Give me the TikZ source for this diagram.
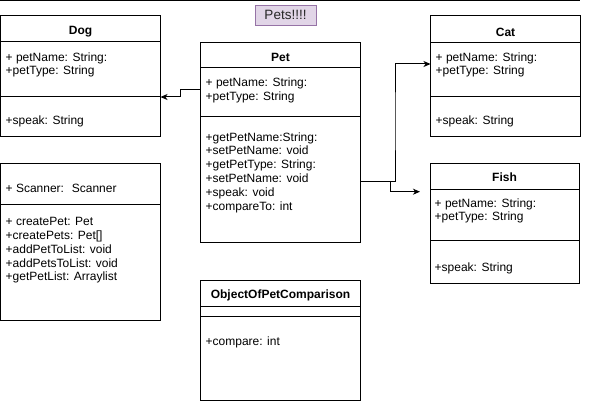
\documentclass[tikz,border=0pt]{standalone}
\usepackage{fontspec}
\setmainfont{Liberation Sans}
\usetikzlibrary{arrows.meta}
\definecolor{pvfill}{HTML}{E1D5E7}
\definecolor{pvdraw}{HTML}{9673A6}
\begin{document}
\begin{tikzpicture}[x=1pt,y=-1pt,
  every node/.style={font=\fontsize{12}{13.8}\selectfont},
  box/.style={draw=black,line width=1pt,inner sep=0pt,outer sep=0pt,anchor=north west},
  title/.style={font=\fontsize{12}{14}\selectfont\bfseries,inner sep=0pt},
  body/.style={align=left,inner sep=0pt,anchor=north west},
  sep/.style={line width=1pt},
  conn/.style={line width=1pt,-{Stealth[length=7pt,width=6pt,inset=2pt]}}]
\useasboundingbox (0,0) rectangle (591,401);
\draw[line width=1pt] (0,1) -- (580,1);
\node[draw=pvdraw,fill=pvfill,line width=1pt,minimum width=61pt,minimum height=20pt,inner sep=0pt,font=\fontsize{13.5}{14}\selectfont,text=black!85] (label) at (285.5,15.2) {Pets!!!!};
% Dog
\node[box,minimum width=160pt,minimum height=120pt] (dog) at (0.5,16) {};
\draw[sep] (0.5,42) -- (160.5,42);
\draw[sep] (0.5,97) -- (160.5,97);
\node[title] (dogt) at (80.5,32) {Dog};
\node[body] (doga) at (5.5,52.3) {+ petName: String:\\+petType: String};
\node[body] (dogm) at (5.5,115.5) {+speak: String};
% Pet
\node[box,minimum width=160pt,minimum height=199.5pt] (pet) at (200.5,42.5) {};
\draw[sep] (200.5,68) -- (360.5,68);
\draw[sep] (200.5,117) -- (360.5,117);
\node[title] (pett) at (280.5,57) {Pet};
\node[body] (peta) at (205.5,77.5) {+ petName: String:\\+petType: String};
\node[body] (petm) at (205.5,132.2) {+getPetName:String:\\+setPetName: void\\+getPetType: String:\\+setPetName: void\\+speak: void\\+compareTo: int};
% Cat
\node[box,minimum width=150pt,minimum height=120pt] (cat) at (430.5,16) {};
\draw[sep] (430.5,42.3) -- (580.5,42.3);
\draw[sep] (430.5,96.7) -- (580.5,96.7);
\node[title] (catt) at (505.5,32) {Cat};
\node[body] (cata) at (435.5,52.3) {+ petName: String:\\+petType: String};
\node[body] (catm) at (435.5,115.5) {+speak: String};
% Fish
\node[box,minimum width=149pt,minimum height=120pt] (fish) at (430,163.5) {};
\draw[sep] (430,189) -- (579,189);
\draw[sep] (430,240) -- (579,240);
\node[title] (fisht) at (504.5,177.7) {Fish};
\node[body] (fisha) at (434.5,198.2) {+ petName: String:\\+petType: String};
\node[body] (fishm) at (434.5,262.5) {+speak: String};
% Scanner
\node[box,minimum width=160pt,minimum height=157pt] (scan) at (0.5,163.5) {};
\draw[sep] (0.5,204) -- (160.5,204);
\node[body] (scana) at (5.5,183.8) {+ Scanner:~ Scanner};
\node[body] (scanm) at (5.5,217.2) {+ createPet: Pet\\+createPets: Pet[]\\+addPetToList: void\\+addPetsToList: void\\+getPetList: Arraylist};
% ObjectOfPetComparison
\node[box,minimum width=160pt,minimum height=119.5pt] (comp) at (200.5,280.5) {};
\draw[sep] (200.5,306.5) -- (360.5,306.5);
\draw[sep] (200.5,316) -- (360.5,316);
\node[title] (compt) at (280.5,295) {ObjectOfPetComparison};
\node[body] (compm) at (205.5,336.5) {+compare: int};
% connectors
\coordinate (fishend) at (420,191.7);
\draw[conn] ([yshift=-47.5pt]pet.north west) -- ++(-20,0) |- ([yshift=-81pt]dog.north east);
\draw[conn] ([yshift=-139.2pt]pet.north east) -| (395,120) |- ([yshift=-48pt]cat.north west);
\draw[conn] ([yshift=-139.2pt]pet.north east) -| (390.7,191.7) -- (fishend);
\end{tikzpicture}
\end{document}
